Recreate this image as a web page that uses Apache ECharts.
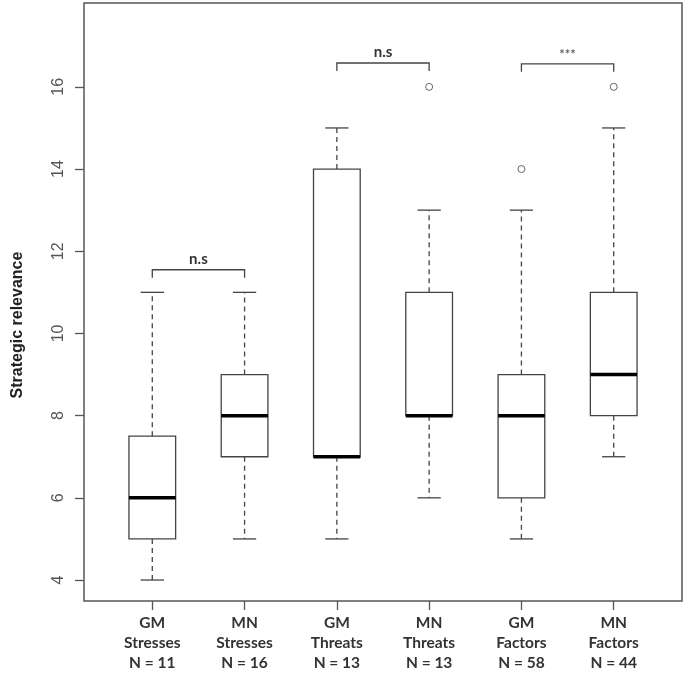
<!DOCTYPE html>
<html>
<head>
<meta charset="utf-8">
<script src="https://cdn.jsdelivr.net/npm/echarts@6/dist/echarts.min.js"></script>
<style>
  html, body { margin: 0; padding: 0; background: #fff; }
  #chart { width: 685px; height: 678px; }
</style>
</head>
<body>
<div id="chart"></div>
<script>
// one entry per box, left to right
const labels = ['GM\nStresses\nN = 11', 'MN\nStresses\nN = 16', 'GM\nThreats\nN = 13',
  'MN\nThreats\nN = 13', 'GM\nFactors\nN = 58', 'MN\nFactors\nN = 44'];
const lowWhisker = [4, 5, 5, 6, 5, 7];
const q1 = [5, 7, 7, 8, 6, 8];
const median = [6, 8, 7, 8, 8, 9];
const q3 = [7.5, 9, 14, 11, 9, 11];
const highWhisker = [11, 11, 15, 13, 13, 15];
// [box position, value]
const outliers = [[4, 16], [5, 14], [6, 16]];
// significance brackets
const bracketFrom = [1, 3, 5];
const bracketTo = [2, 4, 6];
const bracketY = [11.55, 16.58, 16.56];
const bracketText = ['n.s', 'n.s', '***'];
const yTicks = [4, 6, 8, 10, 12, 14, 16];

const positions = labels.map((_, i) => i + 1);
const boxData = positions.map((p, i) => [p, lowWhisker[i], q1[i], median[i], q3[i], highWhisker[i]]);
const bracketData = bracketFrom.map((a, i) => [a, bracketTo[i], bracketY[i], bracketText[i]]);

const lineColor = '#444';

function renderBox(params, api) {
  const x = api.value(0);
  const px = api.coord([x, 0])[0];
  const left = api.coord([x - 0.253, 0])[0];
  const right = api.coord([x + 0.253, 0])[0];
  const capL = api.coord([x - 0.126, 0])[0];
  const capR = api.coord([x + 0.126, 0])[0];
  const yLo = api.coord([x, api.value(1)])[1];
  const yQ1 = api.coord([x, api.value(2)])[1];
  const yMed = api.coord([x, api.value(3)])[1];
  const yQ3 = api.coord([x, api.value(4)])[1];
  const yHi = api.coord([x, api.value(5)])[1];
  const dashed = { stroke: lineColor, lineWidth: 1.3, lineDash: [5, 4] };
  const solid = { stroke: lineColor, lineWidth: 1.3 };
  return {
    type: 'group',
    children: [
      { type: 'line', shape: { x1: px, y1: yQ3, x2: px, y2: yHi }, style: dashed },
      { type: 'line', shape: { x1: px, y1: yQ1, x2: px, y2: yLo }, style: dashed },
      { type: 'line', shape: { x1: capL, y1: yHi, x2: capR, y2: yHi }, style: solid },
      { type: 'line', shape: { x1: capL, y1: yLo, x2: capR, y2: yLo }, style: solid },
      { type: 'rect', shape: { x: left, y: yQ3, width: right - left, height: yQ1 - yQ3 },
        style: { fill: '#fff', stroke: lineColor, lineWidth: 1.3 } },
      { type: 'line', shape: { x1: left, y1: yMed, x2: right, y2: yMed },
        style: { stroke: '#000', lineWidth: 3.5 } }
    ]
  };
}

function renderBracket(params, api) {
  const a = api.coord([api.value(0), api.value(2)]);
  const b = api.coord([api.value(1), api.value(2)]);
  const drop = 8;
  const txt = api.value(3);
  return {
    type: 'group',
    children: [
      { type: 'polyline', shape: { points: [[a[0], a[1] + drop], a, b, [b[0], b[1] + drop]] },
        style: { stroke: lineColor, lineWidth: 1.3, fill: null } },
      { type: 'text', x: (a[0] + b[0]) / 2, y: a[1] - 3,
        style: { text: txt, align: 'center', verticalAlign: 'bottom',
          font: txt === '***' ? 'bold 13px Lato, sans-serif' : 'bold 15px Lato, "Open Sans", sans-serif',
          fill: txt === '***' ? '#666' : '#333' } }
    ]
  };
}

const chart = echarts.init(document.getElementById('chart'));

const option = {
  animation: false,
  grid: {
    left: 84, right: 3, top: 3, bottom: 77,
    show: true, borderColor: '#555', borderWidth: 1.5, backgroundColor: '#fff'
  },
  xAxis: {
    type: 'value',
    min: 0.26,
    max: 6.74,
    splitLine: { show: false },
    axisLine: { show: false },
    axisTick: { show: true, length: 9, customValues: positions, lineStyle: { color: '#555', width: 1.3 } },
    axisLabel: {
      customValues: positions,
      margin: 12,
      formatter: v => labels[Math.round(v) - 1],
      fontFamily: 'Lato, "Open Sans", sans-serif',
      fontWeight: 'bold',
      fontSize: 15.5,
      lineHeight: 20,
      color: '#333'
    }
  },
  yAxis: {
    type: 'value',
    min: 3.49,
    max: 18.04,
    splitLine: { show: false },
    axisLine: { show: false },
    axisTick: { show: true, length: 9, customValues: yTicks, lineStyle: { color: '#555', width: 1.3 } },
    axisLabel: {
      customValues: yTicks,
      rotate: 90,
      margin: 17,
      fontFamily: '"Liberation Sans", Arial, sans-serif',
      fontSize: 16,
      color: '#555'
    }
  },
  graphic: [{
    type: 'text',
    x: 18,
    y: 325,
    rotation: Math.PI / 2,
    style: {
      text: 'Strategic relevance',
      align: 'center',
      verticalAlign: 'middle',
      font: 'bold 16px "Liberation Sans", Arial, sans-serif',
      fill: '#222'
    }
  }],
  series: [
    {
      type: 'custom',
      renderItem: renderBox,
      encode: { x: 0, y: [1, 2, 3, 4, 5] },
      data: boxData,
      z: 2
    },
    {
      type: 'scatter',
      symbol: 'circle',
      symbolSize: 7,
      itemStyle: { color: '#fff', borderColor: lineColor, borderWidth: 1 },
      data: outliers,
      z: 3
    },
    {
      type: 'custom',
      renderItem: renderBracket,
      encode: { x: [0, 1], y: 2 },
      data: bracketData,
      z: 4
    }
  ]
};

option && chart.setOption(option);
</script>
</body>
</html>
